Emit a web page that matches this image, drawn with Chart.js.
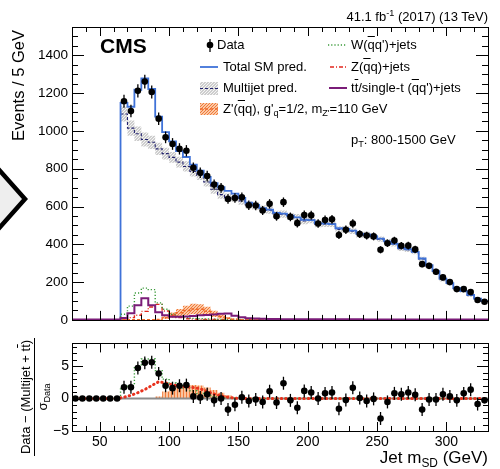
<!DOCTYPE html>
<html>
<head>
<meta charset="utf-8">
<script src="https://cdn.jsdelivr.net/npm/chart.js@4.4.1/dist/chart.umd.min.js"></script>
<style>
  html, body { margin: 0; padding: 0; background: #fff; }
  #wrap { position: relative; width: 500px; height: 469px; overflow: hidden;
          font-family: "Liberation Sans", Arial, sans-serif; color: #000; }
  canvas { position: absolute; left: 0; }
  .t { position: absolute; white-space: nowrap; font-size: 13px; line-height: 16px; }
  .ob { text-decoration: overline; }
  sub { font-size: 70%; line-height: 0; vertical-align: -0.3em; }
  sup { font-size: 70%; line-height: 0; vertical-align: 0.55em; }
  .rot { position: absolute; transform: rotate(-90deg); transform-origin: 50% 50%; white-space: nowrap; }
</style>
</head>
<body>
<div id="wrap">
  <svg width="60" height="469" style="position:absolute;left:0;top:0">
    <polygon points="-6,164 25,199 -6,234" fill="#eeeeee" stroke="#000" stroke-width="4.5" stroke-linejoin="miter"/>
  </svg>
  <canvas id="top" width="500" height="332" style="top:0"></canvas>
  <canvas id="bot" width="500" height="137" style="top:332px"></canvas>

  <div class="t" style="right:12px;top:9px">41.1 fb<sup>-1</sup> (2017) (13 TeV)</div>
  <div class="t" style="left:100px;top:35px;font-size:21px;line-height:21px;font-weight:bold">CMS</div>

  <div class="t" style="left:217px;top:37px">Data</div>
  <div class="t" style="left:223px;top:59px">Total SM pred.</div>
  <div class="t" style="left:223px;top:80px">Multijet pred.</div>
  <div class="t" style="left:223px;top:101px">Z'(<span class="ob">q</span>q), g'<sub>q</sub>=1/2, m<sub>Z'</sub>=110 GeV</div>
  <div class="t" style="left:351px;top:37px">W(<span class="ob">q</span>q')+jets</div>
  <div class="t" style="left:351px;top:59px">Z(<span class="ob">q</span>q)+jets</div>
  <div class="t" style="left:351px;top:80px">t<span class="ob">t</span>/single-t (<span class="ob">q</span>q')+jets</div>
  <div class="t" style="left:351px;top:132px">p<sub>T</sub>: 800-1500 GeV</div>

  <div class="rot" style="left:-39px;top:78px;width:114px;height:18px;line-height:18px;font-size:16.5px;text-align:right">Events / 5 GeV</div>

  <div class="rot" style="left:-25px;top:380px;width:120px;height:34px;font-size:13px;text-align:center">
    <div style="height:16px;line-height:16px">Data − (Multijet + t<span class="ob">t</span>)</div>
    <div style="height:1px;background:#000;margin:0 1px"></div>
    <div style="height:17px;line-height:15px">σ<sub>Data</sub></div>
  </div>

  <div class="t" style="right:12px;top:448px;font-size:17px;line-height:20px">Jet m<sub>SD</sub> (GeV)</div>
</div>

<script>
const xMin = 30, xMax = 330;

// lower edges of the 5 GeV bins
const binLow = [30, 35, 40, 45, 50, 55, 60, 65, 70, 75, 80, 85, 90, 95, 100, 105, 110, 115, 120, 125,
  130, 135, 140, 145, 150, 155, 160, 165, 170, 175, 180, 185, 190, 195, 200, 205, 210, 215, 220, 225,
  230, 235, 240, 245, 250, 255, 260, 265, 270, 275, 280, 285, 290, 295, 300, 305, 310, 315, 320, 325];

const dataCounts = [null, null, null, null, null, null, null,
  1157, 1105, 1212, 1261, 1206, 1065, 966, 931, 905, 895, 805, 779, 761, 716, 699, 640, 645, 649, 607, 605,
  579, 614, 548, 623, 545, 512, 555, 554, 510, 529, 532, 449, 477, 510, 454, 446, 442, 371, 406, 420,
  392, 393, 373, 295, 286, 255, 225, 200, 163, 163, 147, 105, 96];

const dataErr = [null, null, null, null, null, null, null,
  34, 33, 35, 36, 35, 33, 31, 31, 30, 30, 28, 28, 28, 27, 26, 25, 25, 25, 25, 25,
  24, 25, 23, 25, 23, 23, 24, 24, 23, 23, 23, 21, 22, 23, 21, 21, 21, 19, 20, 20,
  20, 20, 19, 17, 17, 16, 15, 14, 13, 13, 12, 10, 10];

const totalSM = [0, 0, 0, 0, 0, 0, 0,
  1148, 1128, 1218, 1278, 1222, 1076, 994, 945, 893, 862, 822, 790, 757, 724, 702, 683, 668, 646, 620, 609,
  592, 584, 566, 562, 552, 543, 530, 528, 512, 510, 507, 485, 481, 472, 455, 452, 443, 430, 416, 403,
  381, 374, 360, 325, 290, 258, 218, 195, 168, 152, 132, 113, 99];

const multijet = [null, null, null, null, null, null, null,
  1090, 1015, 985, 955, 940, 905, 880, 860, 835, 812, 785, 765, 730, 691, 663, 647, 645, 630, 608, 603,
  586, 581, 558, 560, 547, 542, 524, 528, 507, 508, 507, 479, 479, 470, 450, 452, 441, 427, 414, 402,
  377, 372, 360, 322, 286, 255, 213, 193, 165, 151, 129, 112, 97];

const multijetErr = [null, null, null, null, null, null, null,
  40, 40, 38, 37, 35, 33, 31, 29, 28, 27, 26, 25, 24, 23, 22, 22, 21, 21, 20, 20,
  20, 19, 19, 19, 18, 18, 18, 17, 17, 17, 16, 16, 16, 15, 15, 15, 14, 14, 14, 13,
  13, 13, 12, 12, 11, 11, 10, 10, 9, 9, 8, 8, 8];

const wJets = [0, 0, 0, 0, 0, 0, 0,
  30, 73, 142, 168, 160, 90, 56, 30, 18, 12, 8, 6, 5, 4, 3, 3, 2, 2,
  2, 2, 2, 1, 1, 1, 1, 1, 1, 1, 1, 1, 1, 1, 1, 1, 1, 1, 1, 1, 1, 1, 1, 1, 1, 1, 1, 1, 1, 1, 1, 1, 1, 1, 1];

const zJets = [0, 0, 0, 0, 0, 0, 0,
  5, 12, 25, 45, 68, 82, 47, 25, 12, 6, 4, 3, 2, 2, 1, 1, 1, 1,
  1, 1, 1, 1, 1, 1, 1, 1, 1, 1, 1, 1, 1, 1, 1, 1, 1, 1, 1, 1, 1, 1, 1, 1, 1, 1, 1, 1, 1, 1, 1, 1, 1, 1, 1];

const ttbar = [2, 2, 2, 2, 2, 2, 2,
  10, 35, 78, 115, 78, 40, 24, 17, 17, 18, 20, 24, 26, 28, 33, 34, 22, 14, 9, 7,
  6, 5, 5, 4, 4, 4, 3, 3, 3, 3, 3, 3, 3, 3, 3, 2, 2, 2, 2, 2,
  2, 2, 2, 2, 2, 2, 2, 2, 2, 2, 2, 2, 2];

const zPrime = [1, 1, 1, 1, 1, 1, 1, 1, 1, 1, 1, 1,
  3, 12, 25, 38, 50, 58, 56, 46, 32, 18, 9, 4,
  1, 1, 1, 1, 1, 1, 1, 1, 1, 1, 1, 1, 1, 1, 1, 1, 1, 1, 1, 1, 1, 1, 1, 1, 1, 1, 1, 1, 1, 1, 1, 1, 1, 1, 1, 1];

const zPrimeErr = [0, 0, 0, 0, 0, 0, 0, 0, 0, 0, 0, 0,
  2, 7, 14, 20, 25, 28, 27, 23, 17, 10, 5, 2,
  0, 0, 0, 0, 0, 0, 0, 0, 0, 0, 0, 0, 0, 0, 0, 0, 0, 0, 0, 0, 0, 0, 0, 0, 0, 0, 0, 0, 0, 0, 0, 0, 0, 0, 0, 0];

// lower panel: (data - (multijet + ttbar)) / sigma_data
const ratioVals = [0, 0, 0, 0, 0, 0, 0,
  1.74, 1.74, 4.7, 5.5, 5.6, 3.87, 1.98, 1.6, 1.98, 2.07, 0.33, 0.18, 0.65, -0.28, 0, -1.7, -0.95, 0.2, -0.38,
  -0.14, -0.52, 1.13, -0.61, 2.36, -0.28, -1.42, 1.18, 0.94, 0, 0.8, 0.94, -1.56, -0.24, 1.65, 0.09, -0.38,
  -0.05, -3.07, -0.52, 0.8, 0.66, 0.94, 0.57, -1.7, -0.14, -0.14, 0.66, 0.33, -0.28, 0.8, 1.37, -0.85, -0.28];

const ratioErr = [0, 0, 0, 0, 0, 0, 0,
  1, 1, 1, 1, 1, 1, 1, 1, 1, 1, 1, 1, 1, 1, 1, 1, 1, 1, 1, 1, 1, 1, 1, 1, 1, 1, 1, 1, 1, 1, 1,
  1, 1, 1, 1, 1, 1, 1, 1, 1, 1, 1, 1, 1, 1, 1, 1, 1, 1, 1, 1, 1];

const ratioWZ = [0, 0, 0, 0, 0, 0, 0,
  1.6, 2.0, 4.9, 6.1, 6.1, 4.3, 3.0, 2.4, 2.0, 1.6, 1.2, 0.8, 0.5, 0.3, 0.2, 0.1, 0.1,
  0, 0, 0, 0, 0, 0, 0, 0, 0, 0, 0, 0, 0, 0, 0, 0, 0, 0, 0, 0, 0, 0, 0, 0, 0, 0, 0, 0, 0, 0, 0, 0, 0, 0, 0, 0];

const ratioZ = [0, 0, 0, 0, 0, 0, 0,
  0.2, 0.5, 0.9, 1.4, 2.0, 2.6, 2.4, 2.1, 1.9, 1.8, 1.7, 1.5, 1.1, 0.7, 0.4, 0.2, 0.05,
  0, 0, 0, 0, 0, 0, 0, 0, 0, 0, 0, 0, 0, 0, 0, 0, 0, 0, 0, 0, 0, 0, 0, 0, 0, 0, 0, 0, 0, 0, 0, 0, 0, 0, 0, 0];

const ratioZp = [0, 0, 0, 0, 0, 0, 0, 0, 0, 0, 0, 0,
  0.3, 1.1, 1.7, 1.9, 2.0, 2.1, 2.0, 1.7, 1.3, 0.9, 0.5, 0.2,
  0, 0, 0, 0, 0, 0, 0, 0, 0, 0, 0, 0, 0, 0, 0, 0, 0, 0, 0, 0, 0, 0, 0, 0, 0, 0, 0, 0, 0, 0, 0, 0, 0, 0, 0, 0];

const xTicks = [50, 100, 150, 200, 250, 300];
const yTopTicks = [0, 200, 400, 600, 800, 1000, 1200, 1400];
const yRatioTicks = [-5, 0, 5];

Chart.defaults.font.family = '"Liberation Sans", Arial, sans-serif';
Chart.defaults.color = '#000';

const centres = binLow.map(b => b + 2.5);

// histogram points at bin lower edges, plus the closing upper edge
function hist(vals) {
  const pts = binLow.map((x, i) => ({ x, y: vals[i] }));
  pts.push({ x: xMax, y: vals[vals.length - 1] });
  return pts;
}
function shifted(vals, errs, s) {
  return vals.map((v, i) => v == null ? null : v + s * (errs[i] || 0));
}
function points(vals) {
  return centres.map((x, i) => ({ x, y: vals[i] }));
}

function makePattern(ctx, w, h, bg, fg, dots) {
  const c = document.createElement('canvas');
  c.width = w; c.height = h;
  const g = c.getContext('2d');
  g.fillStyle = bg; g.fillRect(0, 0, w, h);
  g.fillStyle = fg;
  dots.forEach(([x, y, dw, dh]) => g.fillRect(x, y, dw, dh));
  return ctx.createPattern(c, 'repeat');
}

const errorBars = {
  id: 'errorBars',
  afterDatasetsDraw(chart) {
    const { ctx } = chart;
    const y = chart.scales.y;
    ctx.save();
    ctx.strokeStyle = '#000';
    ctx.lineWidth = 1.3;
    chart.data.datasets.forEach((ds, i) => {
      if (!ds.errorBars) return;
      chart.getDatasetMeta(i).data.forEach((pt, j) => {
        const v = ds.data[j].y, e = ds.errorBars[j];
        if (v == null || !e) return;
        ctx.beginPath();
        ctx.moveTo(pt.x, y.getPixelForValue(v - e));
        ctx.lineTo(pt.x, y.getPixelForValue(v + e));
        ctx.stroke();
      });
    });
    ctx.restore();
  }
};

// ROOT style frame with inward ticks on all four sides
const rootFrame = {
  id: 'rootFrame',
  afterDraw(chart, args, o) {
    const { ctx, chartArea: a } = chart;
    const { x, y } = chart.scales;
    ctx.save();
    ctx.strokeStyle = '#000';
    ctx.lineWidth = 1;
    const seg = (x1, y1, x2, y2) => { ctx.beginPath(); ctx.moveTo(x1, y1); ctx.lineTo(x2, y2); ctx.stroke(); };
    const isMajor = (v, m) => Math.abs(v / m - Math.round(v / m)) < 1e-6;
    for (let v = Math.ceil(x.min / o.xMinor) * o.xMinor; v < x.max; v += o.xMinor) {
      const px = Math.round(x.getPixelForValue(v)) + 0.5;
      const len = isMajor(v, o.xMajor) ? o.xMajLen : o.xMinLen;
      seg(px, a.bottom, px, a.bottom - len);
      seg(px, a.top, px, a.top + len);
    }
    for (let v = Math.ceil(y.min / o.yMinor) * o.yMinor; v < y.max; v += o.yMinor) {
      const py = Math.round(y.getPixelForValue(v)) + 0.5;
      const len = isMajor(v, o.yMajor) ? o.yMajLen : o.yMinLen;
      seg(a.left, py, a.left + len, py);
      seg(a.right, py, a.right - len, py);
    }
    ctx.strokeRect(Math.round(a.left) + 0.5, Math.round(a.top) + 0.5, Math.round(a.width), Math.round(a.height));
    ctx.restore();
  }
};

const topCtx = document.getElementById('top').getContext('2d');
const greyPat = makePattern(topCtx, 3, 3, '#cdcdcd', '#f5f5f5', [[0, 0, 1, 1], [2, 1, 1, 1], [1, 2, 1, 1]]);
const orangePat = makePattern(topCtx, 3, 3, '#fbc8a6', '#f07a38', [[0, 0, 1, 1], [1, 2, 1, 1], [2, 1, 1, 1]]);
const hatchPat = makePattern(topCtx, 3, 1, '#f9c4a0', '#f27c3c', [[0, 0, 1, 1]]);

const legendMarks = {
  id: 'legendMarks',
  afterDraw(chart) {
    const ctx = chart.ctx;
    ctx.save();
    const seg = (x1, y1, x2, y2) => { ctx.beginPath(); ctx.moveTo(x1, y1); ctx.lineTo(x2, y2); ctx.stroke(); };
    // data
    ctx.strokeStyle = '#000'; ctx.lineWidth = 1.3;
    seg(210, 39, 210, 52);
    ctx.fillStyle = '#000';
    ctx.beginPath(); ctx.arc(210, 45, 3.3, 0, Math.PI * 2); ctx.fill();
    // total
    ctx.strokeStyle = '#3f72d8'; ctx.lineWidth = 1.8;
    seg(200, 67, 218, 67);
    // multijet
    ctx.fillStyle = greyPat; ctx.fillRect(200, 82, 18, 13);
    ctx.strokeStyle = '#22226e'; ctx.lineWidth = 1.2; ctx.setLineDash([3, 2]);
    seg(200, 88.5, 218, 88.5);
    // z prime
    ctx.fillStyle = orangePat; ctx.fillRect(200, 103, 18, 12);
    ctx.strokeStyle = '#ef6a2a'; ctx.lineWidth = 1.3; ctx.setLineDash([3, 2]);
    seg(200, 109, 218, 109);
    // W
    ctx.strokeStyle = '#3a9a3a'; ctx.lineWidth = 1.3; ctx.setLineDash([1.2, 2]);
    seg(328, 45, 347, 45);
    // Z
    ctx.strokeStyle = '#e2261e'; ctx.setLineDash([4, 2, 1, 2]);
    seg(330, 67, 347, 67);
    // ttbar
    ctx.setLineDash([]);
    ctx.strokeStyle = '#7a1c78'; ctx.lineWidth = 2;
    seg(329, 88, 347, 88);
    ctx.restore();
  }
};

const lineDefaults = { pointRadius: 0, pointHoverRadius: 0, fill: false };
const step = 'before';

new Chart(topCtx, {
  type: 'line',
  data: {
    datasets: [
      { label: 'Data', data: points(dataCounts), showLine: false, pointRadius: 3.3, pointHoverRadius: 3.3,
        pointBackgroundColor: '#000', pointBorderWidth: 0, errorBars: dataErr },
      { ...lineDefaults, label: 'ttbar', data: hist(ttbar), stepped: step, borderColor: '#7a1c78', borderWidth: 2 },
      { ...lineDefaults, label: 'Zprime', data: hist(zPrime), stepped: step, borderColor: '#ef6a2a', borderWidth: 1.4, borderDash: [3, 2] },
      { ...lineDefaults, label: 'W', data: hist(wJets), stepped: step, borderColor: '#3a9a3a', borderWidth: 1.4, borderDash: [1.2, 2] },
      { ...lineDefaults, label: 'Z', data: hist(zJets), stepped: step, borderColor: '#e2261e', borderWidth: 1.4, borderDash: [4, 2, 1, 2] },
      { ...lineDefaults, label: 'Total', data: hist(totalSM), stepped: step, borderColor: '#3f72d8', borderWidth: 1.8 },
      { ...lineDefaults, label: 'Multijet', data: hist(multijet), stepped: step, borderColor: '#22226e', borderWidth: 1.1, borderDash: [3, 2] },
      { ...lineDefaults, label: 'mjHi', data: hist(shifted(multijet, multijetErr, 1)), stepped: step, borderWidth: 0, fill: '+1', backgroundColor: greyPat },
      { ...lineDefaults, label: 'mjLo', data: hist(shifted(multijet, multijetErr, -1)), stepped: step, borderWidth: 0 },
      { ...lineDefaults, label: 'zpHi', data: hist(shifted(zPrime, zPrimeErr, 1)), stepped: step, borderWidth: 0, fill: '+1', backgroundColor: orangePat },
      { ...lineDefaults, label: 'zpLo', data: hist(shifted(zPrime, zPrimeErr, -1)), stepped: step, borderWidth: 0 }
    ]
  },
  options: {
    responsive: false, animation: false, devicePixelRatio: 1, events: [],
    layout: { padding: { top: 27, right: 12, bottom: 8, left: 0 } },
    plugins: {
      legend: { display: false }, tooltip: { enabled: false },
      rootFrame: { xMinor: 10, xMajor: 50, xMajLen: 9, xMinLen: 5, yMinor: 50, yMajor: 200, yMajLen: 12, yMinLen: 6 }
    },
    scales: {
      x: { type: 'linear', min: xMin, max: xMax, display: false },
      y: {
        type: 'linear', min: 0, max: 1550,
        grid: { display: false, drawTicks: false }, border: { display: false },
        afterBuildTicks: s => { s.ticks = yTopTicks.map(v => ({ value: v })); },
        afterFit: s => { s.width = 72; },
        ticks: { padding: 4, font: { size: 13.5 }, autoSkip: false, callback: v => String(v) }
      }
    }
  },
  plugins: [errorBars, rootFrame, legendMarks]
});

new Chart(document.getElementById('bot'), {
  type: 'line',
  data: {
    datasets: [
      { label: 'Data', data: points(ratioVals), showLine: false, pointRadius: 3.3, pointHoverRadius: 3.3,
        pointBackgroundColor: '#000', pointBorderWidth: 0, errorBars: ratioErr },
      { ...lineDefaults, label: 'Z', data: points(ratioZ), borderColor: '#e8321e', borderWidth: 3,
        borderDash: [0.5, 4], borderCapStyle: 'round' },
      { ...lineDefaults, label: 'W+Z', data: hist(ratioWZ), stepped: step, borderColor: '#3a9a3a', borderWidth: 1.4, borderDash: [1.2, 2] },
      { ...lineDefaults, label: 'zero', data: [{ x: xMin, y: 0 }, { x: xMax, y: 0 }], borderColor: '#8c8c8c', borderWidth: 2 },
      { ...lineDefaults, label: 'Zprime', data: hist(ratioZp), stepped: step, borderWidth: 0, fill: 'origin', backgroundColor: hatchPat }
    ]
  },
  options: {
    responsive: false, animation: false, devicePixelRatio: 1, events: [],
    layout: { padding: { top: 5, right: 12, bottom: 0, left: 0 } },
    plugins: {
      legend: { display: false }, tooltip: { enabled: false },
      rootFrame: { xMinor: 10, xMajor: 50, xMajLen: 9, xMinLen: 5, yMinor: 1, yMajor: 5, yMajLen: 11, yMinLen: 5 }
    },
    scales: {
      x: {
        type: 'linear', min: xMin, max: xMax,
        grid: { display: false, drawTicks: false }, border: { display: false },
        afterBuildTicks: s => { s.ticks = xTicks.map(v => ({ value: v })); },
        afterFit: s => { s.height = 38; },
        ticks: { padding: 3, font: { size: 14 }, autoSkip: false, maxRotation: 0, callback: v => String(v) }
      },
      y: {
        type: 'linear', min: -5, max: 8.5,
        grid: { display: false, drawTicks: false }, border: { display: false },
        afterBuildTicks: s => { s.ticks = yRatioTicks.map(v => ({ value: v })); },
        afterFit: s => { s.width = 72; },
        ticks: { padding: 3, font: { size: 14 }, autoSkip: false, callback: v => String(v).replace('-', '−') }
      }
    }
  },
  plugins: [errorBars, rootFrame]
});
</script>
</body>
</html>
